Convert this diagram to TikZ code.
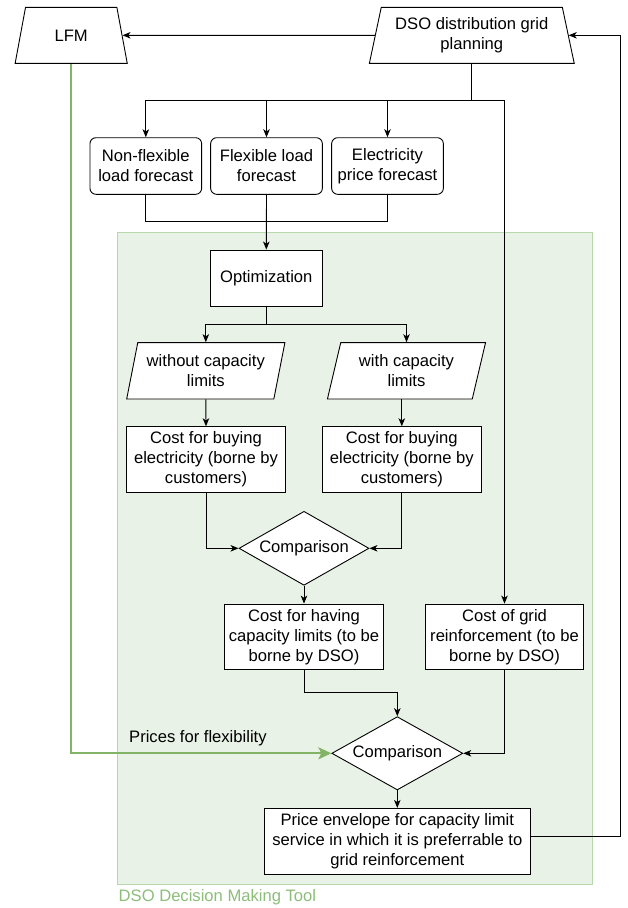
\documentclass[tikz,border=0pt]{standalone}
\usepackage{fontspec}
\setmainfont{Liberation Sans}
\usetikzlibrary{shapes.geometric,arrows.meta,calc}
\definecolor{gfill}{HTML}{E8F2E6}
\definecolor{gborder}{HTML}{B9D7AD}
\definecolor{gline}{HTML}{82B366}
\definecolor{glabel}{HTML}{8CBD79}
\begin{document}
\begin{tikzpicture}[x=1pt,y=-1pt,
  every node/.style={font=\fontsize{16.6}{20}\selectfont, align=center, inner sep=0pt},
  box/.style={draw, line width=0.9pt, fill=white, rectangle},
  rbox/.style={box, rounded corners=6pt, minimum width=111.7pt, minimum height=56.6pt},
  trap/.style={draw, line width=0.9pt, fill=white, trapezium, trapezium stretches=true, minimum height=56pt},
  para/.style={draw, line width=0.9pt, fill=white, trapezium, trapezium stretches=true,
    trapezium left angle=73.4, trapezium right angle=106.6, minimum width=158.3pt, minimum height=56.3pt},
  dia/.style={draw, line width=0.9pt, fill=white, diamond, aspect=1.76, minimum width=130pt, minimum height=74pt},
  ln/.style={line width=0.9pt},
  arr/.style={line width=0.9pt, -{Stealth[length=8pt,width=6.5pt,inset=2.2pt]}},
  garr/.style={line width=2pt, draw=gline, -{Stealth[length=13pt,width=12pt,inset=3pt]}}]
\useasboundingbox (0,0) rectangle (627,908);
% container
\node[draw=gborder, fill=gfill, line width=0.9pt, minimum width=475.4pt, minimum height=652pt] (tool) at (355,558) {};
\node[anchor=west, text=glabel] (toollbl) at (118.5,896.7) {DSO Decision Making Tool};
% top
\node[trap, trapezium left angle=71.7, trapezium right angle=71.7, minimum width=112.3pt] (lfm) at (71.2,35.3) {LFM};
\node[trap, trapezium left angle=74.2, trapezium right angle=74.2, minimum width=205pt] (dso) at (471.8,35.3) {DSO distribution grid\\planning};
% forecasts
\node[rbox] (nonflex) at (145.8,166) {Non-flexible\\load forecast};
\node[rbox] (flex) at (266.5,166) {Flexible load\\forecast};
\node[rbox] (elec) at (387.5,166) {Electricity\\price forecast};
% optimization
\node[box, minimum width=112pt, minimum height=56pt] (opt) at (266.3,278) {Optimization};
\node[para] (wo) at (205.8,370.8) {without capacity\\limits};
\node[para] (w) at (406.5,370.8) {with capacity\\limits};
\node[box, minimum width=158.6pt, minimum height=65.6pt] (costL) at (206,459.5) {Cost for buying\\electricity (borne by\\customers)};
\node[box, minimum width=159pt, minimum height=65.6pt] (costR) at (401.8,459.5) {Cost for buying\\electricity (borne by\\customers)};
\node[dia] (cmp1) at (304,548.3) {Comparison};
\node[box, minimum width=159pt, minimum height=65.3pt] (having) at (304,636.7) {Cost for having\\capacity limits (to be\\borne by DSO)};
\node[box, minimum width=158.5pt, minimum height=65.3pt] (grid) at (504.5,636.7) {Cost of grid\\reinforcement (to be\\borne by DSO)};
\node[dia, minimum width=131pt, minimum height=73.3pt] (cmp2) at (397.3,753.3) {Comparison};
\node[box, minimum width=265.5pt, minimum height=65.7pt] (price) at (397.3,841.2) {Price envelope for capacity limit\\service in which it is preferrable to\\grid reinforcement};
\node[anchor=west] (pflex) at (129,738.3) {Prices for flexibility};
% connectors
\draw[arr] (dso.west) -- (lfm.east);
\draw[arr] ([yshift=4.5pt]price.east) -- ++(90,0) coordinate (fbk) -- (fbk |- dso.east) -- (dso.east);
\draw[arr] (dso.south) -- ++(0,36.7) -| (nonflex.north);
\draw[arr] (dso.south) -- ++(0,36.7) -| (flex.north);
\draw[arr] (dso.south) -- ++(0,36.7) -| (elec.north);
\draw[arr] (dso.south) -- ++(0,36.7) -| (grid.north);
\coordinate (mrg) at (266.5,221.7);
\draw[ln] (nonflex.south) |- (mrg) -| (elec.south);
\draw[arr] (flex.south) -- (opt.north);
\draw[arr] (opt.south) -- ++(0,18.3) -| (wo.north);
\draw[arr] (opt.south) -- ++(0,18.3) -| (w.north);
\draw[arr] (wo.south) -- (costL.north);
\draw[arr] (costR.north |- w.south) -- (costR.north);
\draw[arr] (costL.south) |- (cmp1.west);
\draw[arr] (costR.south) |- (cmp1.east);
\draw[arr] (cmp1.south) -- (having.north);
\draw[arr] (having.south) -- ++(0,23) -| (cmp2.north);
\draw[arr] (grid.south) |- (cmp2.east);
\draw[garr] (lfm.south) |- (cmp2.west);
\draw[arr] (cmp2.south) -- (price.north);
\end{tikzpicture}
\end{document}
